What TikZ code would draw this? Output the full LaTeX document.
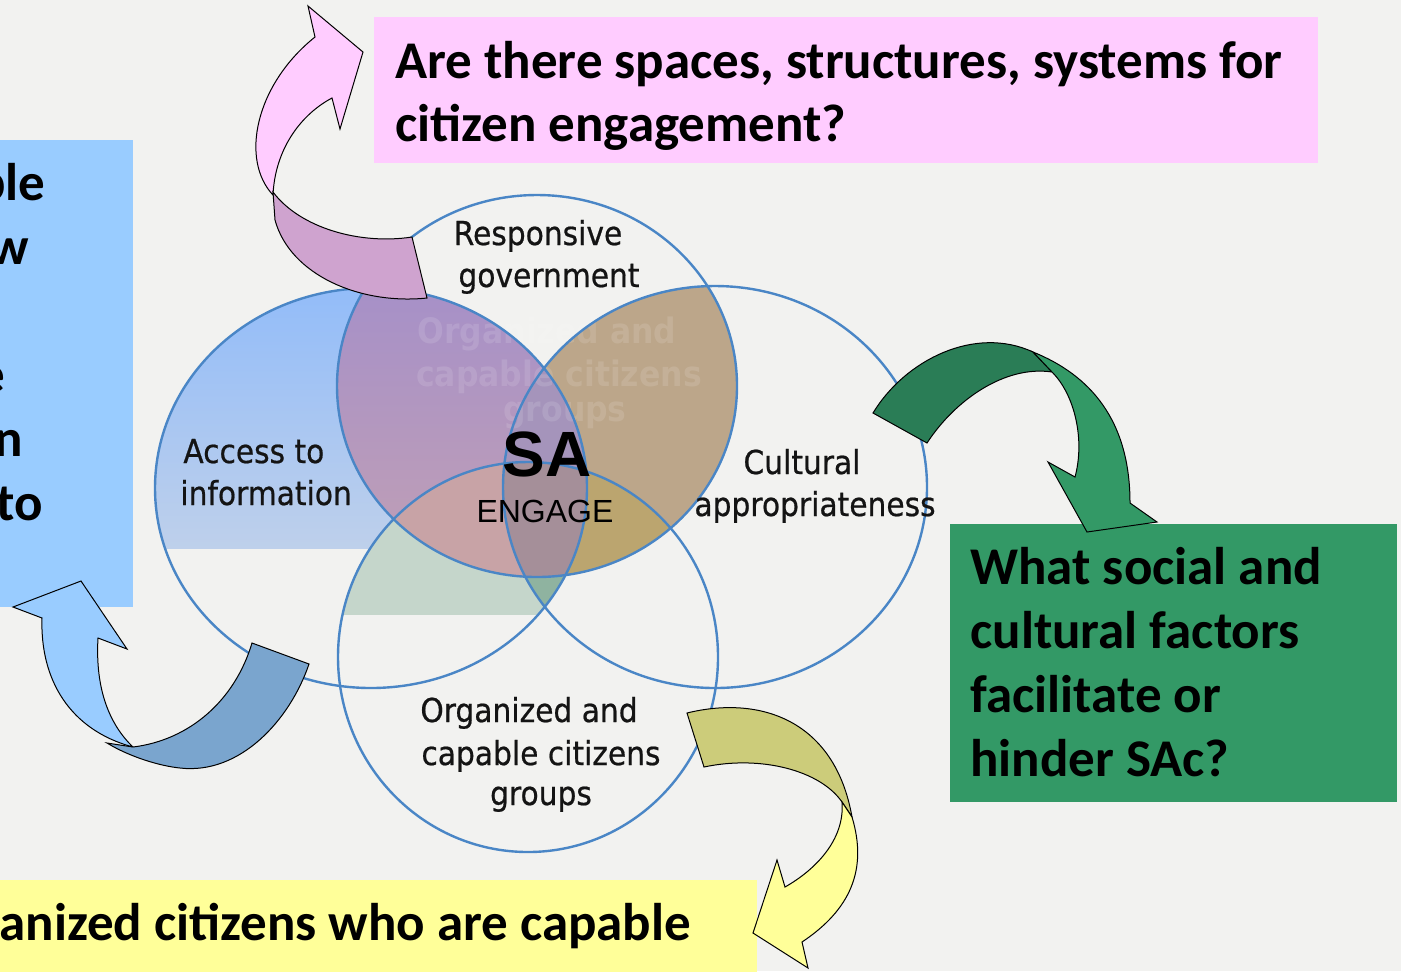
\documentclass[tikz,border=0pt]{standalone}
\usepackage{fontspec}
\setmainfont{Carlito}
\newfontfamily\vennfont[FakeStretch=0.9,FakeBold=0.6]{DejaVu Sans}
\newfontfamily\ghostfont[FakeStretch=0.9]{DejaVu Sans}
\newfontfamily\arialfont{Liberation Sans}
\definecolor{bg}{HTML}{F2F2F0}
\definecolor{pinkbox}{HTML}{FFCCFF}
\definecolor{bluebox}{HTML}{99CCFF}
\definecolor{greenbox}{HTML}{339966}
\definecolor{yellowbox}{HTML}{FFFF99}
\definecolor{pinkdark}{HTML}{CFA3CF}
\definecolor{greendark}{HTML}{2A7D56}
\definecolor{bluedark}{HTML}{7AA5CE}
\definecolor{yellowdark}{HTML}{CCCC7A}
\definecolor{ring}{HTML}{4A86C6}
\definecolor{blueT}{HTML}{92BCF9}
\definecolor{blueB}{HTML}{BED0EB}
\definecolor{graygreen}{HTML}{C5D6CB}
\definecolor{tealc}{HTML}{8FB3A0}
\definecolor{purpT}{HTML}{A690C8}
\definecolor{purpB}{HTML}{C2A0B4}
\definecolor{brownc}{HTML}{BCA68A}
\definecolor{pinkc}{HTML}{C8A3A6}
\definecolor{olivec}{HTML}{BBA56F}
\definecolor{lensc}{HTML}{A594BB}
\definecolor{lensd}{HTML}{A58F99}
\def\Lc{(371,488) ellipse [x radius=216, y radius=200]}
\def\Tc{(537,386) ellipse [x radius=200, y radius=191]}
\def\Rc{(715,487) ellipse [x radius=212, y radius=201]}
\def\Bc{(528,657) ellipse [x radius=190, y radius=195]}
\tikzset{
  qtext/.style={font=\bfseries\fontsize{26.5}{32}\selectfont, inner sep=0pt, text=black},
  vtext/.style={font=\vennfont\fontsize{16.5}{19}\selectfont, inner sep=0pt, text=black!92},
  ghost/.style={font=\ghostfont\bfseries\fontsize{17.5}{20}\selectfont, inner sep=0pt, text=white, text opacity=0.12},
  arrowpart/.style={draw=black, line width=0.5pt, line join=miter},
}
\begin{document}
\begin{tikzpicture}[x=0.5pt,y=-0.5pt]
\useasboundingbox (0,0) rectangle (1401,971);
\fill[bg] (0,0) rectangle (1401,971);
\begin{scope}
\clip (0,0) rectangle (1401,971);
% boxes
\fill[pinkbox] (374,17) rectangle (1318,163);
\fill[bluebox] (0,140) rectangle (133,607);
\fill[greenbox] (950,524) rectangle (1397,802);
\fill[yellowbox] (0,880) rectangle (757,975);
% box texts
\node[qtext, anchor=base west] (p1) at (395,78) {Are there spaces, structures, systems for};
\node[qtext, anchor=base west] (p2) at (395,141) {citizen engagement?};
\node[qtext, anchor=base west] (g1) at (970,584) {What social and};
\node[qtext, anchor=base west] (g2) at (970,648) {cultural factors};
\node[qtext, anchor=base west] (g3) at (970,712) {facilitate or};
\node[qtext, anchor=base west] (g4) at (970,776) {hinder SAc?};
\node[qtext, anchor=base east] (b1) at (46,200) {ple};
\node[qtext, anchor=base east] (b2) at (29,264) {w};
\node[qtext, anchor=base east] (b3) at (6,392) {e};
\node[qtext, anchor=base east] (b4) at (23,456) {n};
\node[qtext, anchor=base east] (b5) at (43,520) {to};
\node[qtext, anchor=base west] (y1) at (-1,940) {anized citizens who are capable};
% venn fills
\begin{scope}
  \clip \Lc; \clip (0,0) rectangle (1401,548);
  \shade[top color=blueT, bottom color=blueB] (150,285) rectangle (600,548);
\end{scope}
\begin{scope}
  \clip \Lc; \clip \Bc; \fill[graygreen] (0,0) rectangle (1401,615);
\end{scope}
\begin{scope}
  \clip \Lc; \clip \Rc; \clip \Bc; \fill[tealc] (0,0) rectangle (1401,615);
\end{scope}
\begin{scope}
  \clip \Tc; \clip \Lc;
  \shade[top color=purpT, bottom color=purpB] (300,285) rectangle (620,580);
\end{scope}
\begin{scope}
  \clip \Tc; \clip \Rc; \fill[brownc] (300,150) rectangle (800,600);
\end{scope}
\begin{scope}
  \clip \Tc; \clip \Lc; \clip \Bc; \fill[pinkc] (300,150) rectangle (800,600);
\end{scope}
\begin{scope}
  \clip \Tc; \clip \Rc; \clip \Bc; \fill[olivec] (300,150) rectangle (800,600);
\end{scope}
\begin{scope}
  \clip \Tc; \clip \Lc; \clip \Rc; \fill[lensc] (300,150) rectangle (800,600);
\end{scope}
\begin{scope}
  \clip \Tc; \clip \Lc; \clip \Rc; \clip \Bc; \fill[lensd] (300,150) rectangle (800,600);
\end{scope}
% ghost text
\node[ghost, anchor=base] (gh1) at (547,343) {Organized and};
\node[ghost, anchor=base] (gh2) at (559,386) {capable citizens};
\node[ghost, anchor=base] (gh3) at (565,421) {groups};
% rings
\draw[ring, line width=1.2pt] \Lc;
\draw[ring, line width=1.2pt] \Tc;
\draw[ring, line width=1.2pt] \Rc;
\draw[ring, line width=1.2pt] \Bc;
% venn labels
\node[vtext, anchor=base] (r1) at (538,245) {Responsive};
\node[vtext, anchor=base] (r2) at (549,287) {government};
\node[vtext, anchor=base west] (a1) at (183,463) {Access to};
\node[vtext, anchor=base west] (a2) at (180,505) {information};
\node[vtext, anchor=base] (c1) at (802,474) {Cultural};
\node[vtext, anchor=base] (c2) at (815,516) {appropriateness};
\node[vtext, anchor=base] (o1) at (529,722) {Organized and};
\node[vtext, anchor=base] (o2) at (541,765) {capable citizens};
\node[vtext, anchor=base] (o3) at (541,805) {groups};
\node[font=\arialfont\bfseries\fontsize{32}{34}\selectfont, inner sep=0pt, anchor=base] (sa) at (547,476) {SA};
\node[font=\arialfont\fontsize{16}{18}\selectfont, inner sep=0pt, anchor=base] (en) at (545,522) {ENGAGE};
% pink arrow
\path[arrowpart, fill=pinkbox] (308,6) -- (363,52) -- (340,129) -- (332,98)
  .. controls (300,115) and (275,150) .. (273,195)
  .. controls (240,160) and (255,85) .. (315,37) -- cycle;
\path[arrowpart, fill=pinkdark] (273,192) .. controls (300,228) and (360,245) .. (412,237)
  -- (427,298) .. controls (360,305) and (290,275) .. (275,220) -- cycle;
% green arrow
\path[arrowpart, fill=greendark] (873,413) .. controls (905,360) and (975,325) .. (1033,352)
  -- (1052,372) .. controls (1005,365) and (955,400) .. (927,443) -- cycle;
\path[arrowpart, fill=greenbox] (1033,352) .. controls (1090,375) and (1130,420) .. (1130,503)
  -- (1157,522) -- (1087,532) -- (1048,462) -- (1075,477)
  .. controls (1085,440) and (1075,395) .. (1052,372) -- cycle;
% blue arrow
\path[arrowpart, fill=bluebox] (81,581) -- (127,649) -- (98,638)
  .. controls (95,690) and (110,725) .. (133,747)
  .. controls (70,730) and (40,680) .. (42,618) -- (13,607) -- cycle;
\path[arrowpart, fill=bluedark] (107,743) -- (133,747) .. controls (190,740) and (235,700) .. (252,643)
  -- (309,664) .. controls (290,720) and (240,775) .. (180,768)
  .. controls (160,766) and (130,757) .. (107,743) -- cycle;
% yellow arrow
\path[arrowpart, fill=yellowdark] (687,713) .. controls (760,695) and (835,720) .. (852,817)
  -- (842,802) .. controls (820,770) and (760,755) .. (704,767) -- cycle;
\path[arrowpart, fill=yellowbox] (852,817) .. controls (868,870) and (850,910) .. (802,942)
  -- (808,968) -- (753,933) -- (777,860) -- (785,887)
  .. controls (815,870) and (845,840) .. (842,802) -- cycle;
\end{scope}
\end{tikzpicture}
\end{document}
